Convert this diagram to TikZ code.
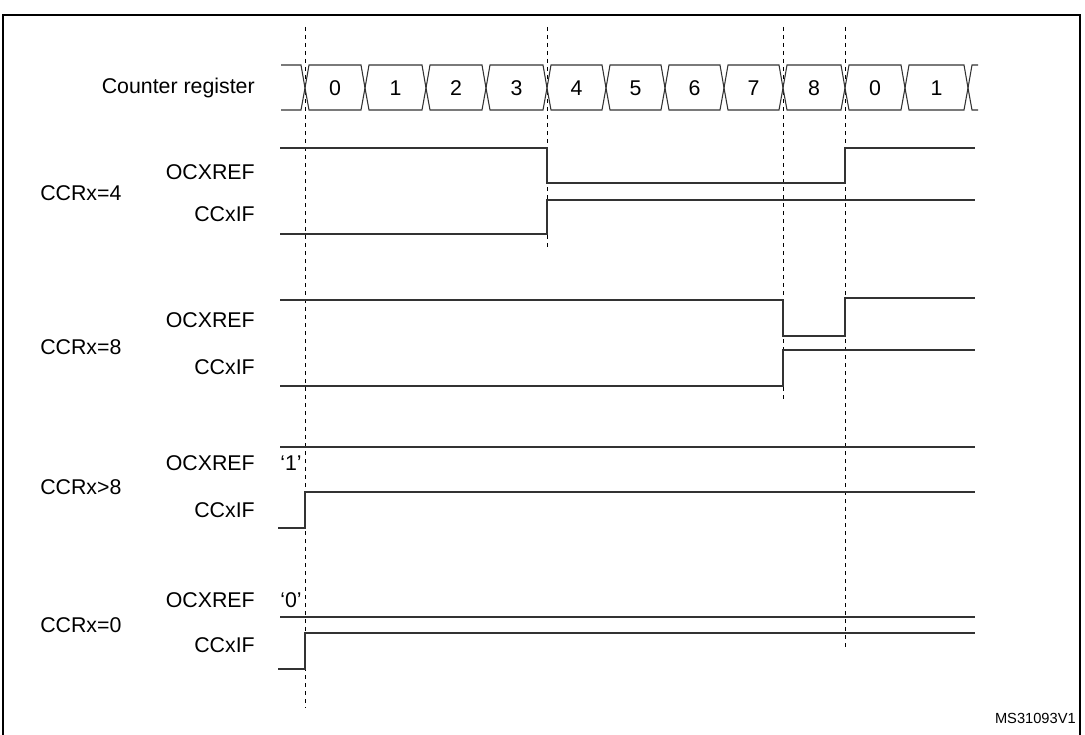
\documentclass[tikz,border=0pt]{standalone}
\usepackage{fontspec}
\setmainfont{Liberation Sans}
\begin{document}
\begin{tikzpicture}[x=0.75pt, y=-0.75pt,
  wave/.style={line width=0.8pt, black!80},
  marker/.style={dashed, line width=0.6pt},
  lbl/.style={anchor=east, font=\fontsize{16}{18}\selectfont, inner sep=0},
  grp/.style={anchor=west, font=\fontsize{16}{18}\selectfont, inner sep=0}]
  \useasboundingbox (0,0) rectangle (1085,735);
  % frame
  \draw[line width=0.8pt] (3,740) -- (3,15) -- (1080,15) -- (1080,740);

  % markers
  \draw[marker] (305,27) -- (305,708);
  \draw[marker] (547,27) -- (547,248);
  \draw[marker] (783,27) -- (783,400);
  \draw[marker] (845,27) -- (845,650);

  % counter register bus
  \node[lbl] (cnt) at (255,88) {Counter register};
  \draw[wave] (281,65) -- (301,65) -- (305,88) -- (301,110) -- (281,110);
  \foreach \a/\b/\v [count=\i] in {305/365/0,365/426/1,426/486/2,486/547/3,547/606/4,606/665/5,665/724/6,724/783/7,783/845/8,845/905/0,905/968/1}{
    \draw[wave] (\a,88) -- (\a+4,65) -- (\b-4,65) -- (\b,88) -- (\b-4,110) -- (\a+4,110) -- cycle;
    \node[font=\fontsize{16}{18}\selectfont] (c\i) at ({(\a+\b)/2},88) {\v};
  }
  \draw[wave] (978,65) -- (972,65) -- (968,88) -- (972,110) -- (978,110);

  % CCRx=4
  \node[grp] (g4) at (40,193) {CCRx=4};
  \node[lbl] (o4) at (255,172) {OCXREF};
  \node[lbl] (f4) at (255,214) {CCxIF};
  \draw[wave] (280,148) -- (547,148) -- (547,183) -- (845,183) -- (845,148) -- (975,148);
  \draw[wave] (280,234) -- (547,234) -- (547,200) -- (975,200);

  % CCRx=8
  \node[grp] (g8) at (40,347) {CCRx=8};
  \node[lbl] (o8) at (255,320) {OCXREF};
  \node[lbl] (f8) at (255,367) {CCxIF};
  \draw[wave] (280,300) -- (783,300) -- (783,336) -- (845,336) -- (845,298) -- (975,298);
  \draw[wave] (280,386) -- (783,386) -- (783,350) -- (975,350);

  % CCRx>8
  \node[grp] (gg) at (40,487) {CCRx>8};
  \node[lbl] (og) at (255,463) {OCXREF};
  \node[lbl] (fg) at (255,510) {CCxIF};
  \node[font=\fontsize{16}{18}\selectfont, inner sep=0] (one) at (291,463) {`1'};
  \draw[wave] (280,447) -- (975,447);
  \draw[wave] (278,528) -- (305,528) -- (305,492) -- (975,492);

  % CCRx=0
  \node[grp] (g0) at (40,625) {CCRx=0};
  \node[lbl] (oz) at (255,600) {OCXREF};
  \node[lbl] (fz) at (255,645) {CCxIF};
  \node[font=\fontsize{16}{18}\selectfont, inner sep=0] (zero) at (291,600) {`0'};
  \draw[wave] (280,617) -- (975,617);
  \draw[wave] (278,669) -- (305,669) -- (305,633) -- (975,633);

  \node[anchor=east, font=\fontsize{11}{13}\selectfont, inner sep=0] (ref) at (1076,718) {MS31093V1};
\end{tikzpicture}
\end{document}
